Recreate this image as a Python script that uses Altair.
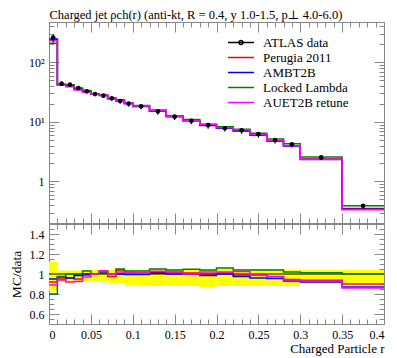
import altair as alt
import pandas as pd

# ---------------- data ----------------
edges = [0.00, 0.01, 0.02, 0.03, 0.04, 0.05, 0.06, 0.07, 0.08, 0.09, 0.10,
         0.12, 0.14, 0.16, 0.18, 0.20, 0.22, 0.24, 0.26, 0.28, 0.30, 0.35, 0.40]
atlas = [260, 43.7, 42.1, 37.0, 32.5, 29.3, 27.5, 24.8, 22.4, 20.2,
         18.2, 15.0, 12.2, 10.4, 8.8, 7.8, 7.2, 6.2, 4.94, 4.2, 2.53, 0.39]
band_hi = [1.12, 1.035, 1.035, 1.035, 1.04, 1.04, 1.04, 1.04, 1.045, 1.045,
           1.045, 1.05, 1.05, 1.05, 1.05, 1.05, 1.05, 1.05, 1.05, 1.045, 1.04, 1.04]
band_lo = [0.83, 0.92, 0.91, 0.92, 0.93, 0.93, 0.92, 0.91, 0.90, 0.89,
           0.89, 0.88, 0.88, 0.88, 0.87, 0.88, 0.88, 0.88, 0.88, 0.88, 0.90, 0.90]
perugia = [239.2, 41.5, 40.4, 35.15, 32.2, 29.3, 28.3, 24.2, 23.3, 20.6,
           18.4, 15.2, 12.4, 10.5, 8.8, 7.88, 7.13, 6.14, 4.82, 3.97, 2.37, 0.351]
ambt2b = [247, 42.4, 40.4, 36.4, 32.5, 29.3, 27.8, 24.8, 22.4, 20.1,
          18.1, 15.1, 12.2, 10.4, 8.67, 7.8, 7.02, 5.95, 4.72, 3.91, 2.33, 0.339]
locked = [208, 42.6, 42.1, 37.0, 33.5, 29.3, 28.05, 24.8, 23.5, 20.8,
          18.75, 15.75, 12.7, 10.9, 9.15, 8.27, 7.49, 6.45, 5.14, 4.28, 2.56, 0.391]
auet2b = [231.4, 41.1, 38.7, 34.2, 31.5, 29.3, 28.3, 24.8, 22.85, 20.6,
          18.4, 15.4, 12.45, 10.4, 8.98, 7.96, 7.38, 6.14, 4.81, 3.95, 2.35, 0.335]

names = ["ATLAS data", "Perugia 2011", "AMBT2B", "Locked Lambda", "AUET2B retune"]
colors = ["#000000", "#ff0000", "#0000ff", "#008000", "#ff00ff"]
mc_sets = [perugia, ambt2b, locked, auet2b]

x_major = [0, 0.05, 0.1, 0.15, 0.2, 0.25, 0.3, 0.35, 0.4]
x_minor = [i / 100 for i in range(0, 41)]
ytop_major = [1, 10, 100]
ytop_minor = [m * 10 ** e for e in (-1, 0, 1, 2) for m in range(2, 10) if 0.2 <= m * 10 ** e <= 475]
ybot_major = [0.6, 0.8, 1.0, 1.2, 1.4]
ybot_minor = [0.5 + 0.05 * i for i in range(0, 21)]

TITLE = "Charged jet \u03c1ch(r) (anti-kt, R = 0.4, y 1.0-1.5, p\u22a5 4.0-6.0)"
FONT = "'Liberation Serif', 'DejaVu Serif', serif"
FR = "#888888"
W, H1, H2 = 335, 201, 100

# ---------------- tables ----------------
lo = edges[:-1]
hi = edges[1:]
bins = pd.DataFrame({
    "lo": lo, "hi": hi,
    "c": [(a + b) / 2 for a, b in zip(lo, hi)],
    "data": atlas,
    "elo": [d * l for d, l in zip(atlas, band_lo)],
    "ehi": [d * h for d, h in zip(atlas, band_hi)],
    "blo": band_lo, "bhi": band_hi,
})


def step_df(vals, ref):
    y = list(vals) + [vals[-1]]
    r = [v / d for v, d in zip(vals, ref)]
    r = r + [r[-1]]
    return pd.DataFrame({"x": edges, "y": y, "r": r})


xs = alt.Scale(domain=[0, 0.4], nice=False, zero=False)
ys1 = alt.Scale(type="log", domain=[0.2, 475], nice=False)
ys2 = alt.Scale(domain=[0.5, 1.5], nice=False, zero=False)


def ax(orient, vals, size, **kw):
    d = dict(orient=orient, values=vals, tickSize=size, offset=-size, domain=False,
             grid=False, title=None, labels=False, tickColor=FR, tickWidth=1)
    d.update(kw)
    return alt.Axis(**d)


lab = dict(labels=True, labelFont=FONT, labelFontSize=12, labelColor="black", labelPadding=5)

x_axes = [
    ax("bottom", x_major, 10),
    ax("bottom", x_minor, 5),
    ax("top", x_major, 10),
    ax("top", x_minor, 5),
]
y1_axes = [
    ax("left", ytop_major, 10, labelExpr="datum.value >= 100 ? '10\u00b2' : datum.value >= 10 ? '10\u00b9' : '1'", **lab),
    ax("left", ytop_minor, 5),
    ax("right", ytop_major, 10),
    ax("right", ytop_minor, 5),
]

# ---------------- top panel ----------------
top_layers = []
for i, (vals, col) in enumerate(zip(mc_sets, colors[1:])):
    top_layers.append(
        alt.Chart(step_df(vals, atlas)).mark_line(interpolate="step-after", color=col, strokeWidth=1.5)
        .encode(x=alt.X("x:Q", scale=xs, axis=x_axes[i]),
                y=alt.Y("y:Q", scale=ys1, axis=y1_axes[i]))
    )
top_layers.append(
    alt.Chart(bins).mark_rule(color="black", strokeWidth=1.2)
    .encode(x=alt.X("c:Q", scale=xs, axis=None), y=alt.Y("elo:Q", scale=ys1, axis=None), y2="ehi:Q")
)
top_layers.append(
    alt.Chart(bins).mark_point(filled=True, color="black", size=22, opacity=1)
    .encode(x=alt.X("c:Q", scale=xs, axis=None), y=alt.Y("data:Q", scale=ys1, axis=None))
)
DATA_PATH = "M-1,0H1M0.16,0A0.16,0.16,0,1,1,-0.16,0A0.16,0.16,0,1,1,0.16,0Z"
LINE_PATH = "M-1,0H1"
leg_df = pd.DataFrame({"series": names, "x": bins["c"][:5], "y": atlas[:5]})
leg = alt.Legend(orient="none", legendX=178, legendY=13, title=None, labelFont=FONT,
                 labelFontSize=13, labelColor="black", symbolSize=676, symbolStrokeWidth=1.5,
                 symbolOpacity=1, clipHeight=15, rowPadding=0, labelOffset=8, padding=0)
top_layers.append(
    alt.Chart(leg_df).mark_point(opacity=0, strokeWidth=1.5)
    .encode(x=alt.X("x:Q", scale=xs, axis=None), y=alt.Y("y:Q", scale=ys1, axis=None),
            color=alt.Color("series:N", scale=alt.Scale(domain=names, range=colors), legend=leg),
            shape=alt.Shape("series:N", scale=alt.Scale(domain=names, range=[DATA_PATH] + [LINE_PATH] * 4), legend=leg))
)
top = alt.layer(*top_layers).resolve_axis(x="independent", y="independent").properties(width=W, height=H1)

# ---------------- bottom panel ----------------
xb_axes = [
    ax("bottom", x_major, 10, format=".2~f", title="Charged Particle r", titleFont=FONT,
       titleFontSize=13, titleFontWeight="normal", titleColor="black", titleAnchor="end",
       titlePadding=2, **lab),
    ax("bottom", x_minor, 5),
    ax("top", x_major, 10),
    ax("top", x_minor, 5),
]
y2_axes = [
    ax("left", ybot_major, 10, format=".1~f", title="MC/data", titleFont=FONT, titleFontSize=13.5,
       titleFontWeight="normal", titleColor="black", titlePadding=6, **lab),
    ax("left", ybot_minor, 5),
    ax("right", ybot_major, 10),
    ax("right", ybot_minor, 5),
]
bot_layers = [
    alt.Chart(bins).mark_rect(color="#ffff00")
    .encode(x=alt.X("lo:Q", scale=xs, axis=xb_axes[0]), x2="hi:Q",
            y=alt.Y("blo:Q", scale=ys2, axis=y2_axes[0]), y2="bhi:Q"),
    alt.Chart(step_df(atlas, atlas)).mark_line(interpolate="step-after", color="black", strokeWidth=1.2)
    .encode(x=alt.X("x:Q", scale=xs, axis=xb_axes[1]), y=alt.Y("r:Q", scale=ys2, axis=y2_axes[1])),
]
for i, (vals, col) in enumerate(zip(mc_sets, colors[1:])):
    xa = xb_axes[i + 2] if i + 2 < 4 else None
    ya = y2_axes[i + 2] if i + 2 < 4 else None
    bot_layers.append(
        alt.Chart(step_df(vals, atlas)).mark_line(interpolate="step-after", color=col, strokeWidth=1.5)
        .encode(x=alt.X("x:Q", scale=xs, axis=xa), y=alt.Y("r:Q", scale=ys2, axis=ya))
    )
bot = alt.layer(*bot_layers).resolve_axis(x="independent", y="independent").properties(width=W, height=H2)

chart = (
    alt.vconcat(top, bot, spacing=-1)
    .properties(title=alt.TitleParams(TITLE, font=FONT, fontSize=12.5, fontWeight="normal", color="black",
                                      anchor="start", dx=41, offset=0),
                padding=0)
    .configure_view(stroke=FR, strokeWidth=1)
)
chart.save("out.html", embed_options={"renderer": "svg", "actions": False})
